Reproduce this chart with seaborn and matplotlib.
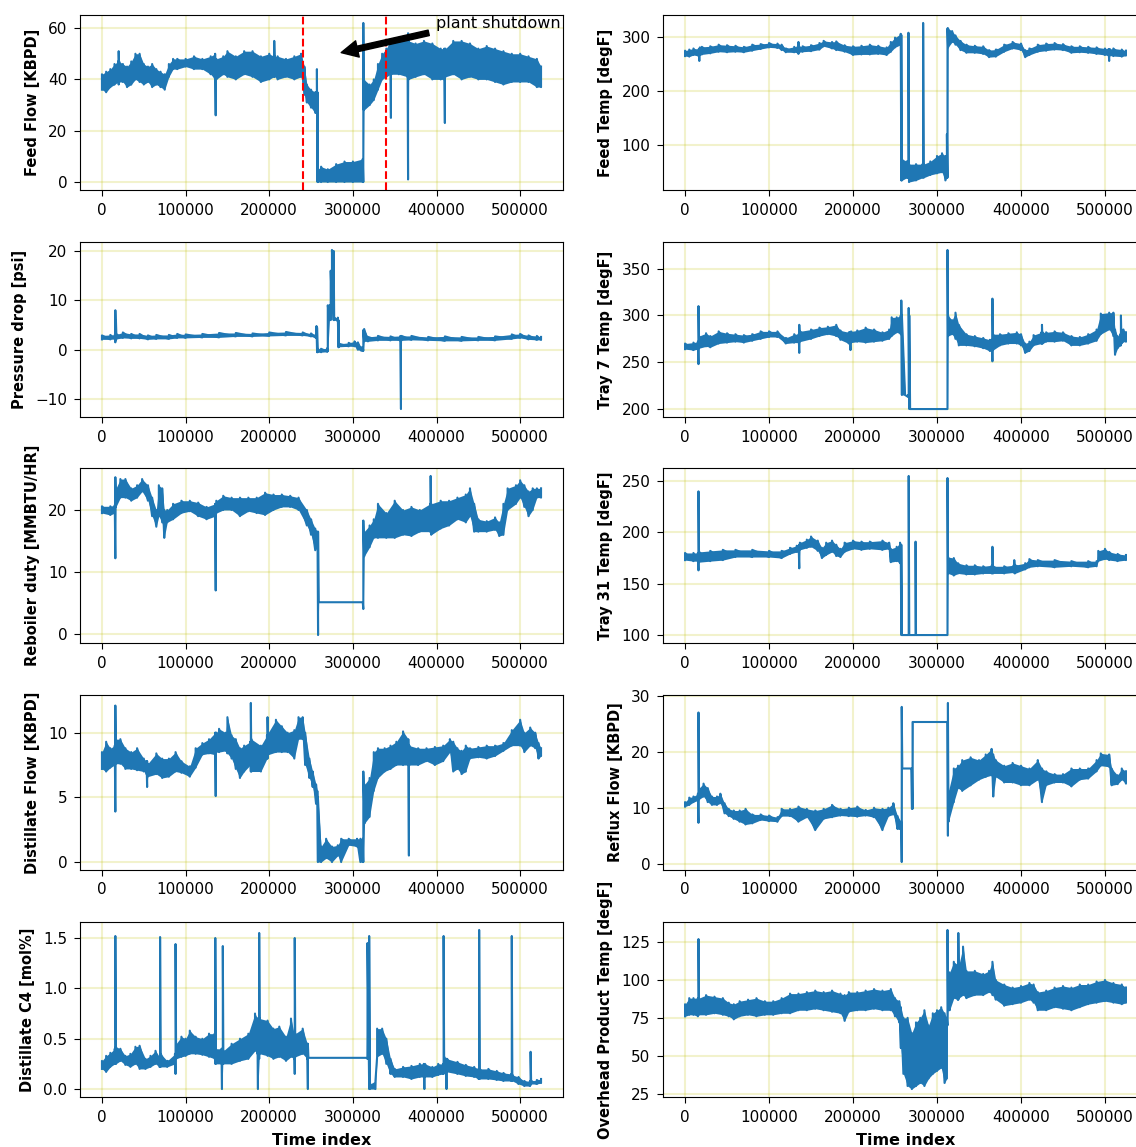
import numpy as np
import pandas as pd
import matplotlib
matplotlib.use("Agg")
import matplotlib.pyplot as plt
from matplotlib.ticker import MultipleLocator
import seaborn as sns

# Each row: (time index, lowest reading, highest reading) of the signal around that index.
feed_flow = [
    (0, 36, 42), (5000, 35, 43), (10000, 37, 44), (15000, 38, 46), (19300, 39, 47), (20000, 38, 51),
    (20700, 39, 47), (25000, 39, 46), (30000, 37, 45), (35000, 38, 47), (40000, 40, 50), (45000, 39, 50),
    (50000, 38, 46), (55000, 39, 45), (60000, 37, 46), (65000, 38, 44), (70000, 37, 43), (75000, 36, 42),
    (80000, 41, 46), (85000, 44, 48), (90000, 44, 48), (100000, 45, 48), (110000, 44, 49), (120000, 44, 48),
    (130000, 42, 49), (135300, 40, 50), (136000, 26, 46), (136700, 40, 48), (145000, 42, 49), (150000, 41, 51),
    (160000, 40, 49), (170000, 42, 51), (180000, 41, 51), (190000, 39, 49), (200000, 40, 50), (205300, 41, 49),
    (206000, 42, 55), (206700, 41, 49), (210000, 40, 49), (220000, 41, 48), (230000, 40, 49), (238000, 41, 50),
    (242000, 34, 45), (245000, 31, 38), (250000, 29, 36), (255000, 27, 35), (256300, 27, 35), (257000, 27, 44),
    (257700, 0, 35), (258300, 0, 5), (262000, 0, 6), (270000, 0, 5), (280000, 0, 7), (290000, 0, 8),
    (300000, 0, 8), (311800, 0, 9), (312500, 0, 62), (313200, 28, 40), (320000, 30, 38), (325000, 32, 40),
    (330000, 36, 46), (335000, 40, 50), (340000, 41, 52), (344800, 42, 55), (345500, 25, 54), (346200, 42, 55),
    (355000, 42, 56), (365300, 41, 55), (366000, 1, 58), (366700, 40, 55), (375000, 41, 54), (385000, 42, 55),
    (395000, 40, 54), (405000, 40, 52), (409300, 40, 52), (410000, 23, 50), (410700, 41, 52), (420000, 42, 55),
    (430000, 40, 55), (440000, 41, 54), (450000, 40, 52), (460000, 40, 53), (470000, 39, 52), (480000, 38, 51),
    (490000, 39, 50), (500000, 39, 50), (510000, 39, 49), (520000, 37, 48), (525000, 37, 45),
]

feed_temp = [
    (0, 264, 274), (5000, 263, 276), (10000, 266, 278), (16300, 264, 277), (17000, 255, 278), (17700, 266, 280),
    (20000, 267, 281), (30000, 269, 282), (40000, 272, 285), (50000, 271, 284), (60000, 272, 283),
    (70000, 271, 281), (80000, 274, 285), (90000, 277, 286), (100000, 280, 288), (110000, 279, 287),
    (115000, 275, 285), (120000, 271, 278), (130000, 271, 281), (134300, 270, 282), (135000, 268, 290),
    (135700, 271, 282), (140000, 272, 282), (150000, 273, 284), (160000, 276, 288), (165000, 282, 292),
    (175000, 278, 290), (180000, 275, 291), (190000, 272, 284), (200000, 266, 282), (210000, 267, 283),
    (220000, 267, 285), (230000, 268, 283), (240000, 266, 280), (245000, 272, 290), (250000, 280, 298),
    (256800, 285, 305), (257500, 35, 303), (258200, 35, 75), (264000, 40, 70), (265300, 40, 70),
    (266000, 40, 307), (266700, 32, 65), (275000, 35, 65), (282800, 40, 65), (283500, 45, 325),
    (284200, 40, 65), (292000, 45, 70), (300000, 48, 80), (306000, 50, 85), (310000, 35, 80),
    (311800, 40, 120), (312500, 40, 315), (313200, 280, 315), (318000, 290, 310), (322000, 285, 302),
    (328000, 275, 292), (335000, 270, 285), (345000, 270, 283), (355000, 268, 282), (362000, 262, 275),
    (370000, 263, 276), (380000, 272, 285), (390000, 278, 290), (400000, 275, 287), (405000, 262, 275),
    (410000, 266, 278), (420000, 272, 285), (430000, 274, 287), (440000, 276, 288), (450000, 275, 286),
    (460000, 270, 282), (470000, 271, 282), (480000, 270, 281), (490000, 268, 280), (500000, 266, 278),
    (504300, 265, 277), (505000, 255, 277), (505700, 265, 277), (510000, 264, 278), (520000, 263, 276),
    (525000, 265, 274),
]

pressure_drop = [
    (0, 2.1, 2.9), (10000, 2.1, 3.0), (15300, 2.2, 3.0), (16000, 1.5, 8.0), (16700, 2.0, 6.0),
    (17400, 2.2, 3.1), (25000, 2.4, 3.5), (35000, 2.3, 3.2), (45000, 2.3, 3.2), (55000, 2.1, 2.9),
    (65000, 2.2, 3.0), (80000, 2.2, 3.0), (90000, 2.4, 3.2), (100000, 2.4, 3.1), (120000, 2.5, 3.2),
    (140000, 2.5, 3.4), (160000, 2.7, 3.4), (180000, 2.7, 3.3), (200000, 2.8, 3.5), (220000, 2.9, 3.6),
    (240000, 2.9, 3.5), (250000, 2.7, 3.3), (255800, 2.4, 3.1), (256500, 2.4, 4.8), (257200, -0.5, 4.5),
    (258000, -0.5, 0.2), (262000, -0.5, 0.2), (269300, -0.4, 0.3), (270000, -0.3, 9.0), (272000, 6.0, 9.0),
    (273500, 6.0, 16.0), (275000, 8.0, 20.2), (277000, 6.0, 20.0), (277700, 6.0, 6.5), (282000, 5.8, 6.5),
    (282800, 0.5, 6.0), (283500, 0.6, 1.2), (295000, 0.7, 1.4), (302000, 0.7, 1.7), (306000, 0.0, 1.5),
    (310000, -0.2, 0.5), (311800, -0.2, 0.5), (312500, -0.2, 4.0), (313500, 1.7, 4.2), (318000, 1.7, 2.6),
    (330000, 1.9, 2.8), (345000, 1.9, 2.7), (356800, 1.9, 2.8), (357500, -12.0, 2.5), (358200, 1.9, 2.8),
    (370000, 2.0, 2.8), (390000, 1.9, 2.6), (410000, 1.8, 2.7), (430000, 1.8, 2.6), (450000, 1.9, 2.6),
    (470000, 1.9, 2.7), (490000, 2.2, 3.1), (500000, 2.4, 3.2), (510000, 2.1, 2.9), (520000, 2.0, 2.8),
    (525000, 2.0, 2.6),
]

tray7_temp = [
    (0, 264, 270), (10000, 263, 271), (15300, 264, 272), (16000, 248, 310), (16700, 265, 278), (25000, 267, 281),
    (30000, 266, 278), (40000, 270, 283), (50000, 271, 281), (60000, 272, 280), (70000, 271, 279),
    (80000, 273, 280), (90000, 275, 283), (100000, 277, 283), (110000, 277, 283), (120000, 270, 276),
    (130000, 271, 280), (135300, 271, 280), (136000, 260, 290), (136700, 272, 283), (150000, 275, 285),
    (160000, 278, 287), (170000, 280, 288), (180000, 278, 290), (185000, 274, 284), (195000, 270, 282),
    (196300, 270, 282), (197000, 263, 282), (197700, 271, 283), (205000, 272, 284), (215000, 271, 287),
    (225000, 272, 285), (235000, 273, 282), (243000, 275, 285), (246000, 278, 298), (252000, 282, 298),
    (256800, 280, 300), (257500, 282, 316), (258200, 215, 300), (262000, 215, 215), (265500, 213, 215),
    (266300, 213, 308), (267000, 200, 300), (268000, 200, 200), (311800, 200, 200), (312500, 200, 370),
    (313200, 278, 300), (318000, 280, 295), (322000, 275, 303), (326000, 268, 290), (335000, 268, 280),
    (345000, 267, 278), (355000, 265, 276), (363000, 262, 274), (365300, 262, 274), (366000, 251, 318),
    (366700, 263, 280), (375000, 268, 280), (385000, 270, 281), (395000, 270, 282), (400000, 268, 280),
    (405000, 260, 270), (410000, 262, 272), (415000, 268, 279), (424300, 270, 282), (425000, 270, 290),
    (425700, 270, 282), (430000, 272, 282), (440000, 272, 283), (450000, 273, 282), (460000, 268, 278),
    (470000, 268, 277), (480000, 270, 280), (490000, 273, 285), (495000, 280, 302), (505000, 285, 303),
    (510000, 278, 303), (512000, 258, 285), (515000, 265, 278), (518300, 268, 280), (519000, 268, 300),
    (519700, 270, 285), (522000, 272, 285), (525000, 272, 282),
]

reboiler_duty = [
    (0, 19.5, 20.6), (10000, 19.2, 20.6), (15300, 19.5, 20.8), (16000, 12.2, 25.3), (16700, 20.5, 23.5),
    (22000, 22.0, 25.0), (28000, 22.0, 25.0), (35000, 21.5, 23.5), (42000, 22.0, 24.0), (48000, 23.0, 25.0),
    (55000, 21.5, 24.0), (60000, 19.0, 22.0), (65000, 17.3, 20.0), (68000, 19.0, 24.0), (72000, 18.0, 23.5),
    (74500, 15.5, 20.0), (78000, 18.0, 20.0), (85000, 18.5, 21.0), (95000, 19.5, 21.5), (105000, 19.8, 21.5),
    (115000, 19.0, 21.2), (125000, 18.5, 20.5), (135300, 19.0, 21.0), (136000, 7.0, 20.5),
    (136700, 19.5, 21.5), (145000, 20.0, 22.3), (155000, 20.0, 22.0), (165000, 19.0, 22.0),
    (175000, 19.8, 22.0), (185000, 19.5, 22.0), (195000, 19.2, 22.8), (205000, 20.0, 22.5),
    (215000, 20.5, 22.5), (225000, 20.5, 22.3), (235000, 20.0, 22.0), (245000, 17.5, 20.0),
    (250000, 16.0, 18.5), (255000, 13.5, 17.0), (257700, 14.0, 16.5), (258400, -0.2, 16.5),
    (259100, 5.1, 5.1), (311800, 5.1, 5.1), (312500, 4.0, 18.3), (313500, 12.5, 16.5), (320000, 14.0, 17.5),
    (325000, 15.5, 18.5), (330000, 15.5, 21.0), (340000, 15.5, 19.5), (350000, 15.5, 21.5),
    (360000, 16.0, 20.0), (370000, 15.8, 20.5), (380000, 16.5, 20.0), (392300, 16.5, 21.0),
    (393000, 17.0, 25.5), (393700, 16.0, 21.0), (405000, 17.0, 21.5), (415000, 17.5, 21.5),
    (425000, 18.5, 22.0), (435000, 18.0, 22.5), (440000, 19.0, 23.5), (445000, 16.5, 21.0),
    (450000, 16.5, 18.5), (460000, 16.5, 18.2), (470000, 16.8, 18.8), (475000, 15.8, 18.0),
    (480000, 16.0, 21.0), (485000, 20.0, 23.5), (495000, 21.0, 24.0), (500000, 22.0, 24.8),
    (505000, 20.5, 24.0), (510000, 19.0, 23.0), (515000, 20.0, 23.5), (520000, 22.0, 23.5),
    (525000, 22.0, 23.5),
]

tray31_temp = [
    (0, 173, 180), (10000, 172, 180), (15300, 172, 180), (16000, 163, 240), (16700, 171, 181), (30000, 172, 182),
    (45000, 173, 183), (60000, 176, 183), (80000, 176, 183), (100000, 176, 182), (115000, 175, 182),
    (125000, 179, 185), (133000, 181, 187), (135300, 181, 187), (136000, 165, 188), (136700, 183, 190),
    (145000, 185, 193), (150000, 186, 196), (158000, 182, 192), (163000, 175, 185), (168000, 178, 190),
    (175000, 181, 192), (180000, 177, 188), (185000, 176, 184), (190000, 181, 190), (200000, 184, 192),
    (210000, 183, 191), (220000, 184, 191), (235000, 183, 192), (243000, 184, 190), (245000, 171, 184),
    (252000, 172, 186), (256000, 170, 190), (256800, 170, 188), (257500, 100, 188), (258200, 100, 100),
    (265500, 100, 100), (266300, 100, 255), (267000, 100, 100), (274000, 100, 100), (274500, 100, 191),
    (275000, 100, 100), (311800, 100, 100), (312500, 100, 253), (313200, 160, 176), (320000, 158, 175),
    (325000, 160, 170), (335000, 159, 168), (345000, 159, 168), (355000, 160, 167), (365300, 160, 168),
    (366000, 161, 186), (366700, 160, 167), (380000, 160, 167), (391300, 161, 168), (392000, 162, 173),
    (392700, 160, 168), (405000, 164, 170), (410000, 166, 174), (420000, 167, 173), (440000, 166, 173),
    (460000, 167, 172), (480000, 166, 172), (490000, 167, 172), (492000, 172, 182), (500000, 174, 184),
    (505000, 173, 181), (515000, 172, 179), (525000, 173, 178),
]

distillate_flow = [
    (0, 7.2, 8.5), (5000, 7.0, 9.3), (10000, 7.3, 8.8), (15300, 7.5, 9.0), (16000, 3.9, 12.1), (16700, 7.6, 9.5),
    (22000, 7.6, 9.5), (28000, 7.2, 8.8), (35000, 7.2, 8.5), (42000, 7.1, 8.8), (50000, 7.0, 8.0),
    (53300, 6.8, 7.8), (54000, 5.8, 7.8), (54700, 6.6, 7.6), (65000, 6.8, 8.4), (72000, 6.5, 8.0),
    (80000, 6.6, 8.0), (88000, 7.0, 8.5), (95000, 6.9, 7.8), (105000, 6.6, 7.4), (112000, 7.3, 8.8),
    (120000, 8.3, 9.2), (128000, 8.4, 9.5), (135300, 8.3, 10.0), (136000, 5.1, 10.0), (136700, 8.5, 10.0),
    (140000, 8.5, 10.3), (148000, 8.6, 10.0), (150000, 8.4, 11.2), (155000, 8.0, 9.8), (160000, 7.2, 9.5),
    (165000, 6.5, 8.8), (170000, 7.0, 9.0), (177300, 7.5, 9.3), (178000, 7.0, 12.3), (178700, 7.0, 9.5),
    (190000, 7.0, 9.0), (197300, 8.0, 9.8), (198000, 8.0, 11.2), (198700, 8.3, 10.0), (208000, 8.5, 11.0),
    (215000, 8.5, 10.5), (222000, 8.5, 10.0), (230000, 8.0, 10.2), (235000, 9.5, 11.2), (240000, 9.5, 11.2),
    (243000, 7.5, 10.0), (248000, 6.5, 8.0), (252000, 5.8, 7.0), (256000, 4.5, 6.0), (257500, 4.5, 5.5),
    (258200, 0.0, 5.0), (262000, 0.0, 1.2), (268000, 0.3, 1.8), (275000, 0.0, 1.2), (282000, 0.5, 1.3),
    (286000, 0.0, 1.8), (295000, 1.3, 1.8), (305000, 1.2, 1.8), (309000, 0.0, 1.8), (311800, 0.0, 1.8),
    (312500, 0.0, 7.0), (314000, 3.0, 6.0), (320000, 3.5, 6.5), (325000, 5.5, 8.5), (330000, 6.5, 8.8),
    (338000, 7.0, 8.8), (345000, 7.2, 9.0), (352000, 7.5, 9.3), (360000, 7.5, 10.1), (366300, 7.5, 9.5),
    (367000, 0.5, 9.0), (367700, 7.5, 9.0), (378000, 7.5, 8.8), (388000, 7.8, 8.8), (398000, 7.5, 8.9),
    (408000, 7.8, 9.0), (416000, 8.5, 9.5), (420000, 7.0, 9.3), (425000, 7.2, 8.8), (430000, 6.8, 8.6),
    (435000, 7.0, 9.0), (440000, 8.0, 8.8), (450000, 8.1, 8.9), (460000, 8.0, 9.0), (470000, 8.2, 9.0),
    (480000, 8.6, 9.2), (490000, 9.0, 10.2), (500000, 9.0, 11.0), (505000, 8.5, 10.0), (512000, 9.0, 10.4),
    (518000, 8.8, 10.0), (522000, 8.0, 9.2), (525000, 8.2, 8.8),
]

reflux_flow = [
    (0, 10.2, 11.0), (5000, 10.5, 11.8), (10000, 11.0, 12.0), (15300, 11.3, 12.5), (16000, 7.3, 27.0),
    (16700, 11.5, 13.5), (22000, 12.0, 14.3), (27000, 11.0, 13.5), (32000, 10.5, 12.0), (38000, 10.5, 12.0),
    (42000, 10.8, 12.5), (47000, 9.0, 10.8), (52000, 8.5, 9.8), (58000, 8.0, 9.5), (65000, 7.5, 9.5),
    (72000, 7.0, 9.8), (80000, 7.2, 8.8), (90000, 7.8, 8.8), (100000, 7.6, 8.6), (110000, 7.5, 8.3),
    (115000, 8.5, 9.8), (125000, 8.5, 9.8), (135000, 7.5, 10.2), (145000, 8.3, 9.8), (155000, 6.0, 9.5),
    (165000, 8.0, 9.8), (175000, 8.3, 10.5), (185000, 8.6, 9.8), (195000, 8.5, 10.0), (205000, 8.4, 10.2),
    (215000, 8.6, 9.6), (225000, 8.3, 10.0), (235000, 6.0, 9.8), (242000, 8.5, 10.0), (248000, 8.8, 10.8),
    (253000, 6.2, 8.5), (257300, 6.0, 7.5), (258000, 0.3, 28.0), (258700, 17.0, 17.0), (269500, 17.0, 17.0),
    (270200, 9.8, 17.0), (270900, 9.8, 25.3), (271600, 25.3, 25.3), (312300, 25.3, 25.3), (313000, 5.0, 28.7),
    (313700, 7.5, 13.0), (320000, 11.0, 17.0), (325000, 13.5, 17.5), (330000, 13.0, 18.5), (340000, 14.0, 19.0),
    (350000, 15.0, 18.5), (358000, 15.5, 19.5), (365000, 15.8, 20.5), (367000, 12.0, 19.5), (370000, 15.5, 18.5),
    (380000, 14.5, 17.5), (390000, 14.5, 18.0), (400000, 14.0, 17.5), (410000, 14.0, 17.0), (420000, 15.0, 18.5),
    (425000, 11.0, 17.0), (430000, 14.0, 16.5), (440000, 14.5, 16.0), (450000, 14.5, 16.0), (460000, 13.8, 17.0),
    (470000, 15.0, 17.0), (480000, 15.2, 17.0), (490000, 16.5, 18.5), (495000, 17.5, 19.7), (505000, 17.3, 19.5),
    (508000, 14.0, 17.0), (515000, 14.2, 15.8), (520000, 15.0, 17.0), (525000, 14.3, 16.5),
]

distillate_c4 = [
    (0, 0.20, 0.28), (5000, 0.17, 0.33), (10000, 0.22, 0.36), (15300, 0.25, 0.40), (16000, 0.25, 1.52),
    (16700, 0.25, 0.42), (22000, 0.28, 0.40), (28000, 0.24, 0.33), (34000, 0.22, 0.35), (40000, 0.25, 0.42),
    (45000, 0.20, 0.43), (52000, 0.20, 0.30), (58000, 0.22, 0.33), (64000, 0.25, 0.38), (68800, 0.22, 0.32),
    (69500, 0.22, 1.51), (70200, 0.22, 0.35), (78000, 0.22, 0.28), (87300, 0.25, 0.35), (88000, 0.15, 1.44),
    (88700, 0.30, 0.45), (95000, 0.32, 0.52), (100000, 0.33, 0.50), (105000, 0.35, 0.58), (112000, 0.35, 0.52),
    (120000, 0.34, 0.50), (128000, 0.32, 0.55), (134800, 0.30, 0.55), (135500, 0.25, 1.50), (136200, 0.25, 0.40),
    (143000, 0.25, 0.40), (143500, 0.00, 0.40), (144500, 0.25, 1.42), (145200, 0.25, 0.38), (155000, 0.25, 0.45),
    (165000, 0.28, 0.50), (175000, 0.30, 0.55), (183000, 0.38, 0.75), (186000, 0.35, 0.70), (186500, 0.00, 0.70),
    (188000, 0.30, 1.55), (188700, 0.35, 0.70), (198000, 0.33, 0.68), (205000, 0.30, 0.60), (212000, 0.32, 0.62),
    (220000, 0.28, 0.52), (226000, 0.32, 0.70), (229800, 0.30, 0.55), (230500, 0.15, 1.50), (231200, 0.32, 0.55),
    (240000, 0.35, 0.60), (245500, 0.30, 0.45), (246200, 0.00, 0.45), (246900, 0.31, 0.31), (316000, 0.31, 0.31),
    (317500, 0.30, 1.45), (319500, 0.00, 1.52), (320500, 0.00, 0.05), (327000, 0.00, 0.08), (329000, 0.32, 0.60),
    (335000, 0.35, 0.60), (340000, 0.25, 0.50), (345000, 0.15, 0.30), (350000, 0.12, 0.20), (360000, 0.12, 0.22),
    (370000, 0.10, 0.23), (380000, 0.12, 0.25), (384800, 0.12, 0.25), (385500, 0.00, 0.20), (386200, 0.12, 0.25),
    (395000, 0.12, 0.22), (402000, 0.14, 0.25), (407800, 0.15, 0.25), (408500, 0.15, 1.52), (409200, 0.18, 0.32),
    (411300, 0.18, 0.30), (412000, 0.00, 0.30), (412700, 0.17, 0.30), (425000, 0.15, 0.27), (435000, 0.13, 0.24),
    (445000, 0.12, 0.22), (450300, 0.10, 0.20), (451000, 0.10, 1.58), (451700, 0.10, 0.20), (462000, 0.10, 0.20),
    (472000, 0.09, 0.18), (480000, 0.08, 0.16), (489300, 0.08, 0.15), (490000, 0.08, 1.52), (490700, 0.08, 0.14),
    (498000, 0.05, 0.12), (505000, 0.03, 0.08), (511800, 0.03, 0.08), (512500, 0.04, 0.37), (513200, 0.05, 0.08),
    (520000, 0.05, 0.09), (525000, 0.06, 0.10),
]

overhead_temp = [
    (0, 76, 84), (5000, 77, 88), (10000, 77, 88), (15300, 76, 88), (16000, 78, 127), (16700, 77, 88),
    (25000, 77, 90), (35000, 78, 89), (45000, 77, 88), (52000, 76, 85), (58000, 74, 84), (65000, 76, 86),
    (75000, 77, 87), (85000, 76, 88), (95000, 77, 86), (105000, 77, 86), (115000, 78, 88), (125000, 78, 91),
    (135000, 80, 91), (145000, 80, 92), (155000, 81, 93), (165000, 80, 92), (175000, 79, 93), (185000, 78, 91),
    (190000, 73, 90), (195000, 79, 92), (205000, 80, 92), (215000, 80, 93), (225000, 81, 94), (235000, 80, 93),
    (245000, 80, 94), (250000, 76, 88), (255000, 72, 86), (257000, 55, 82), (260000, 38, 75), (265000, 30, 75),
    (270000, 28, 65), (275000, 30, 72), (280000, 32, 75), (285000, 30, 80), (290000, 35, 70), (295000, 38, 78),
    (300000, 40, 80), (305000, 42, 82), (309000, 32, 78), (311800, 35, 75), (312500, 70, 133), (313200, 80, 100),
    (315000, 80, 105), (320000, 88, 112), (324700, 87, 110), (325400, 87, 131), (326100, 88, 110),
    (331000, 90, 122), (335000, 88, 106), (345000, 90, 106), (355000, 90, 104), (362000, 92, 106),
    (366000, 90, 112), (370000, 87, 100), (380000, 83, 97), (390000, 84, 95), (400000, 85, 96), (410000, 87, 98),
    (415000, 85, 97), (420000, 80, 92), (430000, 80, 93), (440000, 82, 95), (450000, 81, 96), (460000, 80, 95),
    (470000, 82, 97), (480000, 84, 97), (490000, 85, 99), (500000, 86, 100), (510000, 85, 98), (520000, 84, 97),
    (525000, 85, 95),
]

panels = [
    ("Feed Flow [KBPD]", feed_flow, None),
    ("Feed Temp [degF]", feed_temp, None),
    ("Pressure drop [psi]", pressure_drop, None),
    ("Tray 7 Temp [degF]", tray7_temp, None),
    ("Reboiler duty [MMBTU/HR]", reboiler_duty, 10),
    ("Tray 31 Temp [degF]", tray31_temp, None),
    ("Distillate Flow [KBPD]", distillate_flow, 5),
    ("Reflux Flow [KBPD]", reflux_flow, None),
    ("Distillate C4 [mol%]", distillate_c4, None),
    ("Overhead Product Temp [degF]", overhead_temp, 25),
]

shutdown_window = [240000, 340000]

W, H = 1136, 1147
fig = plt.figure(figsize=(W / 100, H / 100), dpi=100)

col_left = [80, 663]
col_width = [483, 485]
row_top = [15, 242, 468, 695, 922]
ax_h = 175

for i, (label, rows, ystep) in enumerate(panels):
    row, col = divmod(i, 2)
    rect = [col_left[col] / W, 1 - (row_top[row] + ax_h) / H, col_width[col] / W, ax_h / H]
    ax = fig.add_axes(rect)
    arr = np.asarray(rows, dtype=float)
    t, lo, hi = arr[:, 0], arr[:, 1], arr[:, 2]

    # min-max envelope of the signal
    band = pd.DataFrame({"Time index": np.concatenate([t, t]), "value": np.concatenate([lo, hi])})
    sns.lineplot(data=band, x="Time index", y="value", ax=ax, color="C0", linewidth=0,
                 estimator="mean", errorbar=("pi", 100), err_kws={"alpha": 1, "linewidth": 0})

    # the trace itself, swinging between low and high at every index
    trace = pd.DataFrame({"Time index": np.repeat(t, 2),
                          "value": np.column_stack([lo, hi]).ravel()})
    sns.lineplot(data=trace, x="Time index", y="value", ax=ax, color="C0", linewidth=1.5,
                 estimator=None, sort=False)

    ax.grid(True, color="y", alpha=0.2, linewidth=1.5)
    ax.set_axisbelow(True)
    ax.tick_params(labelsize=11, length=4, pad=5)
    if ystep is not None:
        ax.yaxis.set_major_locator(MultipleLocator(ystep))
    ax.set_ylabel(label, fontweight="bold", fontsize=10.5, labelpad=6)
    if row == 4:
        ax.set_xlabel("Time index", fontweight="bold", fontsize=11.5, labelpad=6)
    else:
        ax.set_xlabel("")
    if i == 0:
        for xv in shutdown_window:
            ax.axvline(xv, color="r", linestyle="--", linewidth=1.5)
        ax.annotate("plant shutdown", xy=(280000, 50), xytext=(400000, 60),
                    arrowprops=dict(facecolor="black", shrink=0.05), fontsize=11.5)

fig.savefig("out.png", dpi=100)
